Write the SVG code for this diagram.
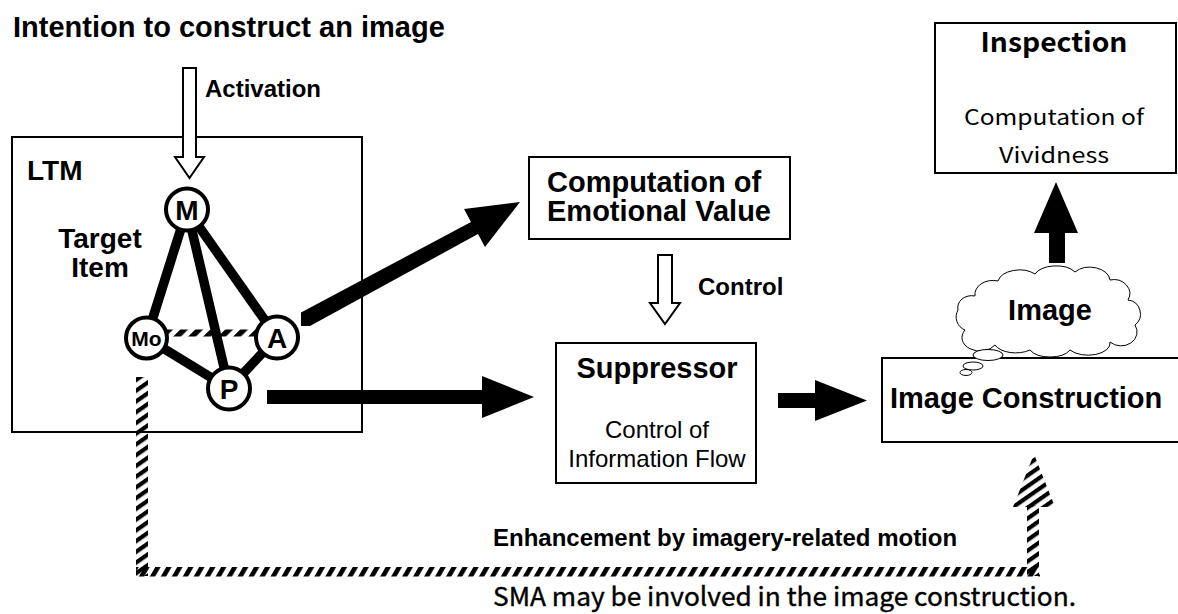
<svg xmlns="http://www.w3.org/2000/svg" width="1178" height="614" viewBox="0 0 1178 614">
<style>
.b{font-family:"Liberation Sans",Arial,sans-serif;font-weight:bold;fill:#000}
.r{font-family:"Liberation Sans",Arial,sans-serif;fill:#000}
.h{font-family:"Noto Sans CJK JP","Noto Sans",sans-serif;fill:#000}
.box{fill:#fff;stroke:#000;stroke-width:2}
.node{fill:#fff;stroke:#000;stroke-width:4}
.edge{stroke:#000;stroke-width:9.5;stroke-linecap:butt}
.hollow{fill:#fff;stroke:#000;stroke-width:2;stroke-linejoin:miter}
.solid{fill:#000;stroke:none}
</style>
<defs>
<pattern id="hatchH" patternUnits="userSpaceOnUse" width="9.5" height="9.5" patternTransform="rotate(30)">
<rect x="0" y="0" width="4.6" height="9.5" fill="#000"/>
</pattern>
<pattern id="hatchV" patternUnits="userSpaceOnUse" width="8.8" height="8.8" patternTransform="rotate(55)">
<rect x="0" y="0" width="4.2" height="8.8" fill="#000"/>
</pattern>
<pattern id="hatchD" patternUnits="userSpaceOnUse" width="10.6" height="10.6" patternTransform="rotate(45)">
<rect x="0" y="0" width="5.5" height="10.6" fill="#000"/>
</pattern>
</defs>
<rect width="1178" height="614" fill="#fff"/>

<text class="b" x="13" y="37" font-size="29">Intention to construct an image</text>

<g id="ltm">
<rect class="box" x="12" y="137" width="350" height="295"/>
<text class="b" x="27" y="180" font-size="28">LTM</text>
<text class="b" x="100" y="248" font-size="28" text-anchor="middle">Target</text>
<text class="b" x="100" y="277" font-size="28" text-anchor="middle">Item</text>
</g>

<g id="connectors">
<polygon class="hollow" points="183,68 196,68 196,157 204,157 189.5,178 175,157 183,157"/>
<text class="b" x="205" y="97" font-size="24">Activation</text>
<rect x="165" y="329.5" width="94" height="7" fill="url(#hatchD)"/>
<line class="edge" x1="187" y1="209.5" x2="146.5" y2="338"/>
<line class="edge" x1="187" y1="209.5" x2="229" y2="388.5"/>
<line class="edge" x1="187" y1="209.5" x2="277" y2="337.5" stroke-width="11"/>
<line class="edge" x1="146.5" y1="338" x2="229" y2="388.5"/>
<line class="edge" x1="277" y1="337.5" x2="229" y2="388.5"/>
<polygon class="solid" points="301,312.5 471,222 464,209 520,202 485,247 478,234 310,326 301,326"/>
<polygon class="solid" points="267,390 482,390 482,376 534,397 482,418 482,404 267,404"/>
<polygon class="hollow" points="658,255 672,255 672,303 680,303 665,324 650,303 658,303"/>
<text class="b" x="698" y="295" font-size="24">Control</text>
<polygon class="solid" points="778,393 815,393 815,380 867,400.5 815,421 815,408 778,408"/>
<polygon class="solid" points="1049,263 1049,233 1034,233 1056,182 1078,233 1065,233 1065,263"/>
<rect x="136" y="377" width="12" height="199" fill="url(#hatchV)"/>
<rect x="136" y="567" width="904" height="9.5" fill="url(#hatchH)"/>
<rect x="1027" y="505" width="12" height="71" fill="url(#hatchV)"/>
<polygon points="1013,507 1034,454 1055,507" fill="url(#hatchV)"/>
<text class="b" x="493" y="546" font-size="24">Enhancement by imagery-related motion</text>
</g>

<g id="node-M">
<circle class="node" cx="187" cy="209.5" r="21"/>
<text class="b" x="187" y="219.5" font-size="28" text-anchor="middle">M</text>
</g>
<g id="node-Mo">
<circle class="node" cx="146.5" cy="338" r="20.5"/>
<text class="b" x="146.5" y="346" font-size="21" text-anchor="middle">Mo</text>
</g>
<g id="node-A">
<circle class="node" cx="277" cy="337.5" r="21"/>
<text class="b" x="277" y="347.5" font-size="28" text-anchor="middle">A</text>
</g>
<g id="node-P">
<circle class="node" cx="229" cy="388.5" r="21"/>
<text class="b" x="229" y="398.5" font-size="28" text-anchor="middle">P</text>
</g>

<g id="emotional">
<rect class="box" x="529" y="157" width="261" height="82"/>
<text class="b" x="547" y="192" font-size="29">Computation of</text>
<text class="b" x="547" y="221" font-size="29">Emotional Value</text>
</g>

<g id="suppressor">
<rect class="box" x="556" y="343" width="200" height="140"/>
<text class="b" x="657" y="378" font-size="29" text-anchor="middle">Suppressor</text>
<text class="r" x="657" y="438" font-size="24" text-anchor="middle">Control of</text>
<text class="r" x="657" y="467" font-size="24" text-anchor="middle">Information Flow</text>
</g>

<g id="image-construction">
<rect class="box" x="882" y="358" width="298" height="84"/>
<text class="b" x="890" y="408" font-size="29">Image Construction</text>
</g>

<g id="image-cloud">
<path d="M975 296 A18 14 0 0 1 998 281 A22 14 0 0 1 1035 274 A22 12 0 0 1 1075 272 A20 14 0 0 1 1110 280 A16 14 0 0 1 1128 300 A14 14 0 0 1 1135 325 A16 14 0 0 1 1110 342 A22 12 0 0 1 1070 350 A22 12 0 0 1 1030 350 A22 12 0 0 1 995 345 A16 12 0 0 1 965 330 A14 14 0 0 1 958 310 A14 12 0 0 1 975 296 Z" fill="#fff" stroke="#000" stroke-width="1"/>
<ellipse cx="988" cy="355" rx="15" ry="5.5" fill="#fff" stroke="#000" stroke-width="1"/>
<ellipse cx="973" cy="366" rx="10" ry="4" fill="#fff" stroke="#000" stroke-width="1"/>
<ellipse cx="966" cy="372.5" rx="6" ry="3" fill="#fff" stroke="#000" stroke-width="1"/>
<text class="b" x="1050" y="320" font-size="29" text-anchor="middle">Image</text>
</g>

<g id="inspection">
<rect class="box" x="935" y="23" width="241" height="150"/>
<text class="h" x="1054" y="52" font-size="27" font-weight="bold" text-anchor="middle" textLength="147" lengthAdjust="spacingAndGlyphs">Inspection</text>
<text class="h" x="1054" y="125" font-size="21" text-anchor="middle" textLength="180" lengthAdjust="spacingAndGlyphs">Computation of</text>
<text class="h" x="1054" y="163" font-size="21" text-anchor="middle" textLength="110" lengthAdjust="spacingAndGlyphs">Vividness</text>
</g>

<text class="h" x="493" y="606" font-size="26" stroke="#000" stroke-width="0.4" textLength="583" lengthAdjust="spacingAndGlyphs">SMA may be involved in the image construction.</text>
</svg>
